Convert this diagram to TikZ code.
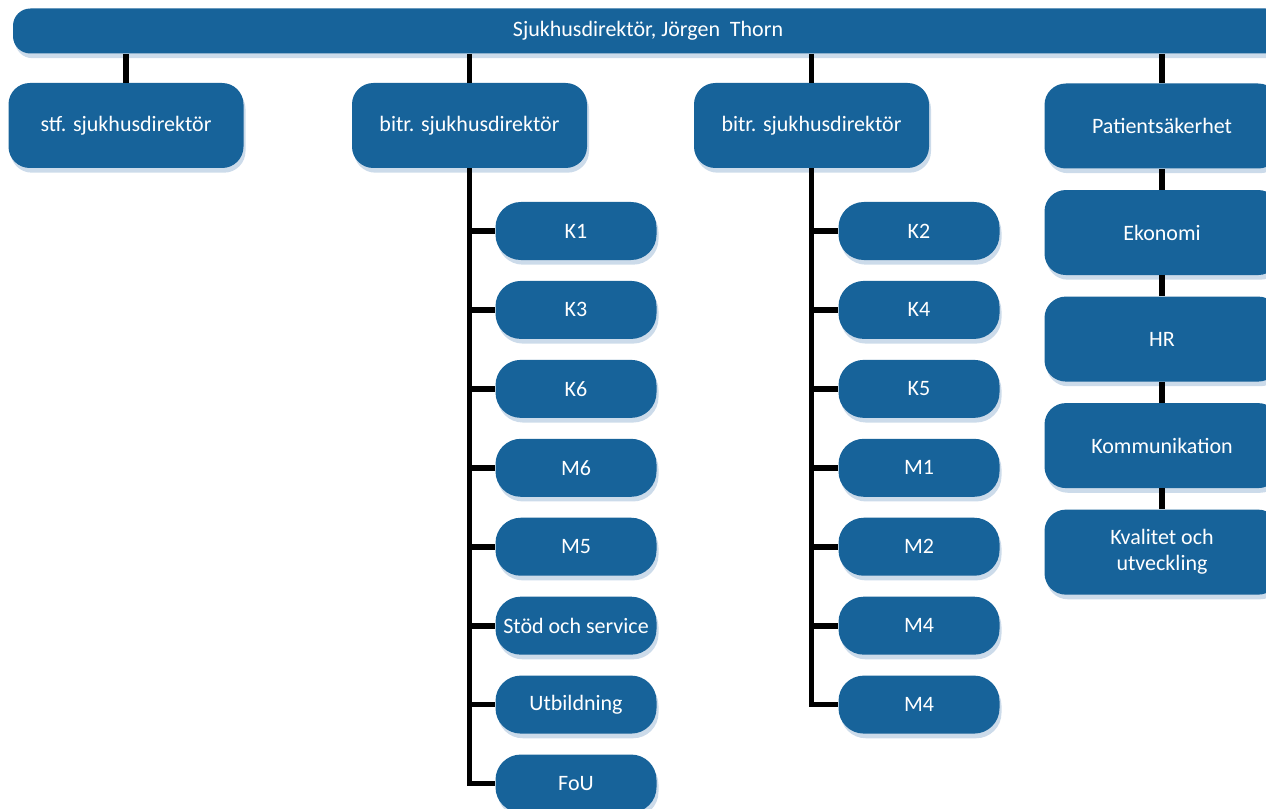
\documentclass[tikz,border=0pt]{standalone}
\usepackage{fontspec}
\setmainfont{Carlito}
\usepackage{tikz}
\usetikzlibrary{positioning, shadows}
\definecolor{boxblue}{RGB}{23,99,154}
\definecolor{shadowblue}{RGB}{204,219,234}
\tikzset{
    box/.style = {rectangle, fill=boxblue, text=white, align=center,
        font=\fontsize{16.5}{19.5}\selectfont,
        drop shadow={shadow xshift=1.5pt, shadow yshift=-3.5pt, fill=shadowblue, opacity=1}},
    topbar/.style = {box, rounded corners=13pt, minimum width=952.5pt, minimum height=33.75pt},
    bigbox/.style = {box, rounded corners=16pt, minimum width=176.25pt, minimum height=63.75pt},
    smallbox/.style = {box, rounded corners=19pt, minimum width=120.75pt, minimum height=43.5pt},
    line/.style = {draw, black, line width=4.25pt}
}

\begin{document}
\begin{tikzpicture}[x=0.75pt, y=-0.75pt, node distance=15.3pt]
    \useasboundingbox (0,0) rectangle (1266,809);
    \clip (0,0) rectangle (1266,809);
    % Noder
    \node [topbar] (direktor) at (648,31) {Sjukhusdirektör, Jörgen~ Thorn};
    \node [bigbox] (stf) at (126,125.5) {stf. sjukhusdirektör};
    \node [bigbox] (bitra) at (469.5,125.5) {bitr. sjukhusdirektör};
    \node [bigbox] (bitrb) at (811.5,125.5) {bitr. sjukhusdirektör};
    \node [bigbox] (patient) at (1162,126) {Patientsäkerhet};
    \node [bigbox, below=15.75pt of patient] (ekonomi) {Ekonomi};
    \node [bigbox, below=15.75pt of ekonomi] (hr) {HR};
    \node [bigbox, below=15.75pt of hr] (komm) {Kommunikation};
    \node [bigbox, below=15.75pt of komm] (kval) {Kvalitet och\\utveckling};
    % Kliniker, bitr. 1
    \node [smallbox] (k1) at (576,231) {K1};
    \node [smallbox, below=of k1] (k3) {K3};
    \node [smallbox, below=of k3] (k6) {K6};
    \node [smallbox, below=of k6] (m6) {M6};
    \node [smallbox, below=of m6] (m5) {M5};
    \node [smallbox, below=of m5] (stod) {Stöd och service};
    \node [smallbox, below=of stod] (utb) {Utbildning};
    \node [smallbox, below=of utb] (fou) {FoU};
    % Kliniker, bitr. 2
    \node [smallbox] (k2) at (919,231) {K2};
    \node [smallbox, below=of k2] (k4) {K4};
    \node [smallbox, below=of k4] (k5) {K5};
    \node [smallbox, below=of k5] (m1) {M1};
    \node [smallbox, below=of m1] (m2) {M2};
    \node [smallbox, below=of m2] (m4a) {M4};
    \node [smallbox, below=of m4a] (m4b) {M4};
    % Linjer
    \foreach \n in {stf, bitra, bitrb, patient}
        \draw [line] (\n.north |- direktor.south) -- (\n.north);
    \draw [line] (patient) -- (ekonomi);
    \draw [line] (ekonomi) -- (hr);
    \draw [line] (hr) -- (komm);
    \draw [line] (komm) -- (kval);
    \draw [line] (bitra.south) |- (fou.west);
    \foreach \n in {k1, k3, k6, m6, m5, stod, utb}
        \draw [line] (bitra.south |- \n.west) -- (\n.west);
    \draw [line] (bitrb.south) |- (m4b.west);
    \foreach \n in {k2, k4, k5, m1, m2, m4a}
        \draw [line] (bitrb.south |- \n.west) -- (\n.west);
\end{tikzpicture}
\end{document}
